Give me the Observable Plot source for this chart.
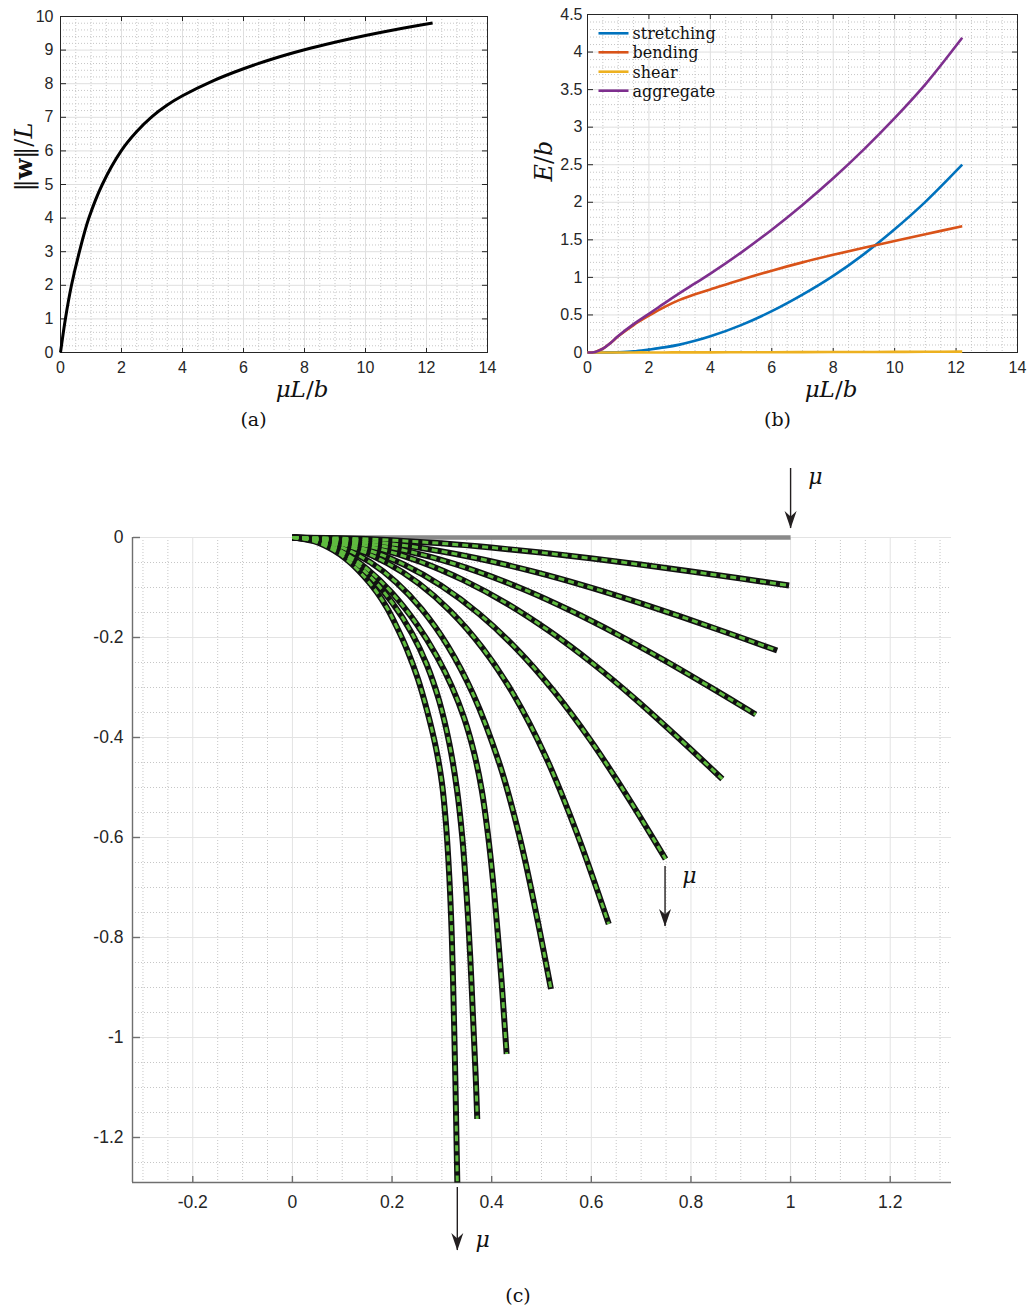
<!DOCTYPE html>
<html>
<head>
<meta charset="utf-8">
<script src="https://cdn.jsdelivr.net/npm/d3@7"></script>
<script src="https://cdn.jsdelivr.net/npm/@observablehq/plot@0.6"></script>
<style>
  html, body { margin: 0; padding: 0; background: #fff; }
  #fig { position: relative; width: 1028px; height: 1313px; overflow: hidden; }
  #fig > svg { position: absolute; }
</style>
</head>
<body>
<div id="fig"></div>
<script>
// ---------- (a) tip displacement norm vs. load ----------
const loadA = [0, 0.16, 0.36, 0.62, 0.93, 1.37, 1.99, 2.5, 3, 3.5, 4, 5, 6, 7, 8, 9, 10, 11, 12.2];
const wNorm = [0, 1, 2, 3, 4, 5, 6, 6.575, 7.02, 7.365, 7.64, 8.085, 8.445, 8.75, 9.01, 9.235, 9.435, 9.615, 9.805];

// ---------- (b) energy components vs. load ----------
const loadB      = [0, 0.25, 0.5, 0.75, 1, 1.5, 2, 2.5, 3, 3.5, 4, 5, 6, 7, 8, 9, 10, 11, 12.2];
const stretching = [0, 0, 0.001, 0.002, 0.004, 0.015, 0.04, 0.068, 0.105, 0.155, 0.215, 0.365, 0.55, 0.77, 1.02, 1.31, 1.64, 2.005, 2.5];
const bending    = [0, 0.008, 0.05, 0.125, 0.215, 0.365, 0.49, 0.605, 0.7, 0.775, 0.84, 0.97, 1.09, 1.2, 1.3, 1.395, 1.485, 1.575, 1.68];
const shear      = [0, 0, 0, 0, 0, 0.001, 0.001, 0.001, 0.002, 0.002, 0.002, 0.003, 0.004, 0.005, 0.006, 0.007, 0.008, 0.01, 0.012];
const aggregate  = [0, 0.008, 0.052, 0.128, 0.22, 0.378, 0.515, 0.655, 0.79, 0.92, 1.05, 1.33, 1.635, 1.965, 2.32, 2.705, 3.12, 3.57, 4.19];
const seriesNames  = ["stretching", "bending", "shear", "aggregate"];
const seriesColors = ["#0072BD", "#D95319", "#EDB120", "#7E2F8E"];

// ---------- (c) deformed beam shapes (x, y) for increasing load ----------
const undeformed = [[0, 0], [1, 0]];
const beam1 = [[0,0],[0.0997,-0.0014],[0.1994,-0.0054],[0.2991,-0.0117],[0.3988,-0.02],[0.4985,-0.03],[0.5982,-0.0415],[0.6979,-0.0541],[0.7976,-0.0676],[0.8973,-0.0816],[0.997,-0.096]];
const beam2 = [[0,0],[0.0973,-0.0031],[0.1946,-0.0121],[0.2919,-0.0264],[0.3892,-0.0455],[0.4865,-0.0688],[0.5838,-0.0957],[0.6811,-0.1256],[0.7784,-0.1578],[0.8757,-0.1915],[0.973,-0.226]];
const beam3 = [[0,0],[0.093,-0.0046],[0.186,-0.0179],[0.279,-0.0393],[0.372,-0.0683],[0.465,-0.104],[0.558,-0.1461],[0.651,-0.1931],[0.744,-0.2441],[0.837,-0.2982],[0.93,-0.354]];
const beam4 = [[0,0],[0.0863,-0.0057],[0.1726,-0.0223],[0.2589,-0.0492],[0.3452,-0.0862],[0.4315,-0.1327],[0.5178,-0.1886],[0.6041,-0.253],[0.6904,-0.3249],[0.7767,-0.4025],[0.863,-0.483]];
const beam5 = [[0,0],[0.0749,-0.0062],[0.1498,-0.0244],[0.2247,-0.0546],[0.2996,-0.097],[0.3745,-0.1525],[0.4494,-0.2221],[0.5243,-0.3068],[0.5992,-0.4068],[0.6741,-0.5206],[0.749,-0.643]];
const beam6 = [[0,0],[0.0635,-0.0057],[0.127,-0.0227],[0.1905,-0.0513],[0.254,-0.0922],[0.3175,-0.1476],[0.381,-0.2202],[0.4445,-0.3148],[0.508,-0.4374],[0.5715,-0.5924],[0.635,-0.773]];
const beam7 = [[0,0],[0.0519,-0.0054],[0.1038,-0.0218],[0.1557,-0.0492],[0.2076,-0.0889],[0.2595,-0.1433],[0.3114,-0.2162],[0.3633,-0.3146],[0.4152,-0.4511],[0.445,-0.555],[0.4671,-0.6462],[0.495,-0.78],[0.519,-0.903]];
const beam8 = [[0,0],[0.05,-0.007],[0.1,-0.028],[0.15,-0.063],[0.2,-0.111],[0.25,-0.174],[0.29,-0.238],[0.32,-0.298],[0.345,-0.362],[0.365,-0.432],[0.38,-0.505],[0.392,-0.59],[0.403,-0.69],[0.412,-0.79],[0.42,-0.89],[0.426,-0.975],[0.43,-1.033]];
const beam9 = [[0,0],[0.05,-0.008],[0.1,-0.032],[0.15,-0.072],[0.2,-0.13],[0.24,-0.192],[0.27,-0.255],[0.295,-0.328],[0.315,-0.412],[0.33,-0.502],[0.341,-0.6],[0.35,-0.72],[0.357,-0.84],[0.363,-0.97],[0.368,-1.08],[0.371,-1.163]];
const beam10 = [[0,0],[0.043,-0.0075],[0.083,-0.026],[0.11,-0.045],[0.143,-0.077],[0.17,-0.11],[0.19,-0.141],[0.21,-0.18],[0.23,-0.224],[0.252,-0.283],[0.27,-0.345],[0.288,-0.42],[0.3,-0.49],[0.308,-0.57],[0.315,-0.68],[0.32,-0.8],[0.324,-0.95],[0.327,-1.08],[0.3293,-1.2],[0.331,-1.29]];
const beams = [beam1, beam2, beam3, beam4, beam5, beam6, beam7, beam8, beam9, beam10];

// load arrows and their μ labels, in (c) data units
const loadArrows = [
  {x: 1, y1: 0.138, y2: 0.018},
  {x: 0.748, y1: -0.658, y2: -0.778},
  {x: 0.331, y1: -1.3, y2: -1.426}
];
const muLabels = [{x: 1.05, y: 0.122}, {x: 0.797, y: -0.676}, {x: 0.382, y: -1.404}];

// tick values
const ticksAX = [0, 2, 4, 6, 8, 10, 12, 14];
const ticksAY = [0, 1, 2, 3, 4, 5, 6, 7, 8, 9, 10];
const ticksBX = ticksAX;
const ticksBY = [0, 0.5, 1, 1.5, 2, 2.5, 3, 3.5, 4, 4.5];
const ticksCX = [-0.2, 0, 0.2, 0.4, 0.6, 0.8, 1, 1.2];
const ticksCY = [-1.2, -1, -0.8, -0.6, -0.4, -0.2, 0];
const minorAX = d3.range(1, 28).filter(i => i % 4 !== 0).map(i => i / 2);
const minorAY = d3.range(1, 50).filter(i => i % 5 !== 0).map(i => i / 5);
const minorBY = d3.range(1, 45).filter(i => i % 5 !== 0).map(i => i / 10);
const minorCX = d3.range(-6, 27).filter(i => i % 4 !== 0).map(i => i / 20);
const minorCY = d3.range(-25, 0).filter(i => i % 4 !== 0).map(i => i / 20);
const xDomainC = [-0.321, 1.323];
const yDomainC = [-1.29, 0];

const fmt = d => String(+(+d).toFixed(2));
const sans = "'Liberation Sans', Arial, Helvetica, sans-serif";
const serif = "'DejaVu Serif', 'Liberation Serif', serif";
const ink = "#262626";
const majorGrid = {stroke: "#dfdfdf", strokeOpacity: 1, strokeWidth: 1};
const minorGrid = {stroke: "#c6c6c6", strokeOpacity: 1, strokeWidth: 1, strokeDasharray: "1,2"};

// MATLAB-style boxed axes: ticks drawn inward on all four sides
function boxedAxes(tx, ty, padX, padY) {
  const tick = {tickSize: 5, fill: "none", stroke: ink, strokeWidth: 1};
  return [
    Plot.frame({stroke: ink, strokeWidth: 1}),
    Plot.axisX(tx, {anchor: "top", frameAnchor: "bottom", ...tick}),
    Plot.axisX(tx, {anchor: "bottom", frameAnchor: "top", ...tick}),
    Plot.axisY(ty, {anchor: "right", frameAnchor: "left", ...tick}),
    Plot.axisY(ty, {anchor: "left", frameAnchor: "right", ...tick}),
    Plot.axisX(tx, {anchor: "bottom", tickSize: 0, tickPadding: padX, tickFormat: fmt, fill: ink, label: null}),
    Plot.axisY(ty, {anchor: "left", tickSize: 0, tickPadding: padY, tickFormat: fmt, fill: ink, label: null})
  ];
}

const fig = document.getElementById("fig");

// ---------- panel (a) ----------
const dataA = loadA.map((x, i) => ({x, y: wNorm[i]}));
const plotA = Plot.plot({
  width: 510, height: 400,
  marginLeft: 60, marginRight: 23, marginTop: 16, marginBottom: 48,
  x: {domain: [0, 14], label: null},
  y: {domain: [0, 10], label: null},
  style: {fontFamily: sans, fontSize: "16px", color: ink, background: "transparent", overflow: "visible"},
  marks: [
    Plot.gridX(minorAX, minorGrid),
    Plot.gridY(minorAY, minorGrid),
    Plot.gridX(ticksAX, majorGrid),
    Plot.gridY(ticksAY, majorGrid),
    ...boxedAxes(ticksAX, ticksAY, 9, 7),
    Plot.line(dataA, {x: "x", y: "y", stroke: "#000", strokeWidth: 3, curve: "catmull-rom", strokeLinecap: "butt"})
  ]
});
plotA.style.left = "0px"; plotA.style.top = "0px";
fig.appendChild(plotA);

// ---------- panel (b) ----------
const seriesB = [stretching, bending, shear, aggregate];
const dataB = seriesB.flatMap((vals, k) => loadB.map((x, i) => ({x, y: vals[i], name: seriesNames[k]})));
const plotB = Plot.plot({
  width: 508, height: 400,
  marginLeft: 67, marginRight: 11, marginTop: 14, marginBottom: 48,
  x: {domain: [0, 14], label: null},
  y: {domain: [0, 4.5], label: null},
  color: {domain: seriesNames, range: seriesColors},
  style: {fontFamily: sans, fontSize: "16px", color: ink, background: "transparent", overflow: "visible"},
  marks: [
    Plot.gridX(minorAX, minorGrid),
    Plot.gridY(minorBY, minorGrid),
    Plot.gridX(ticksBX, majorGrid),
    Plot.gridY(ticksBY, majorGrid),
    ...boxedAxes(ticksBX, ticksBY, 9, 5),
    Plot.line(dataB, {x: "x", y: "y", z: "name", stroke: "name", strokeWidth: 2.6, curve: "catmull-rom", strokeLinecap: "butt"})
  ]
});
plotB.style.left = "520px"; plotB.style.top = "0px";
fig.appendChild(plotB);

// ---------- panel (c) ----------
const beamData = beams.flatMap((pts, k) => pts.map(([x, y]) => ({x, y, load: k + 1})));
const stealthHead = {
  draw(context, size) {
    const r = Math.sqrt(size / Math.PI);
    context.moveTo(0, 0);
    context.lineTo(-0.6 * r, -1.75 * r);
    context.lineTo(0, -1.2 * r);
    context.lineTo(0.6 * r, -1.75 * r);
    context.closePath();
  }
};
const axisGray = "#6f6f6f";
const plotC = Plot.plot({
  width: 1028, height: 830,
  marginLeft: 132, marginRight: 77, marginTop: 97, marginBottom: 88,
  x: {domain: xDomainC, label: null},
  y: {domain: yDomainC, label: null},
  style: {fontFamily: sans, fontSize: "17.5px", color: ink, background: "transparent", overflow: "visible"},
  marks: [
    Plot.gridX(minorCX, minorGrid),
    Plot.gridY(minorCY, minorGrid),
    Plot.gridX(ticksCX, {...majorGrid, stroke: "#e3e3e3"}),
    Plot.gridY(ticksCY, {...majorGrid, stroke: "#e3e3e3"}),
    Plot.ruleX([xDomainC[0]], {stroke: axisGray, strokeWidth: 1.4}),
    Plot.ruleY([yDomainC[0]], {stroke: axisGray, strokeWidth: 1.4}),
    Plot.axisX(ticksCX, {anchor: "top", frameAnchor: "bottom", tickSize: 7, fill: "none", stroke: axisGray, strokeWidth: 1.4}),
    Plot.axisY(ticksCY, {anchor: "right", frameAnchor: "left", tickSize: 7, fill: "none", stroke: axisGray, strokeWidth: 1.4}),
    Plot.axisX(ticksCX, {anchor: "bottom", tickSize: 0, tickPadding: 13, tickFormat: fmt, fill: ink, label: null}),
    Plot.axisY(ticksCY, {anchor: "left", tickSize: 0, tickPadding: 9, tickFormat: fmt, fill: ink, label: null}),
    Plot.line(undeformed, {x: d => d[0], y: d => d[1], stroke: "#8a8a8a", strokeWidth: 4.5, strokeLinecap: "butt"}),
    Plot.line(beamData, {x: "x", y: "y", z: "load", stroke: "#111", strokeWidth: 6, curve: "catmull-rom", strokeLinecap: "butt"}),
    Plot.line(beamData, {x: "x", y: "y", z: "load", stroke: "#5fbb3f", strokeWidth: 3, strokeDasharray: "6,4", curve: "catmull-rom", strokeLinecap: "butt"}),
    Plot.ruleX(loadArrows, {x: "x", y1: "y1", y2: "y2", stroke: "#231f20", strokeWidth: 1.4}),
    Plot.dot(loadArrows, {x: "x", y: "y2", r: 10, symbol: stealthHead, fill: "#231f20", stroke: "none"}),
    Plot.text(muLabels, {x: "x", y: "y", text: () => "μ", fontFamily: serif, fontStyle: "italic", fontSize: 22, fill: "#111"})
  ]
});
plotC.style.left = "0px"; plotC.style.top = "440px";
fig.appendChild(plotC);

// ---------- axis titles, panel captions and legend ----------
const overlay = d3.select(fig).append("svg")
  .attr("width", 1028).attr("height", 1313)
  .style("left", "0px").style("top", "0px").style("pointer-events", "none");

function tex(parts, x, y, {size = 24, anchor = "middle", rotate = 0} = {}) {
  const t = overlay.append("text")
    .attr("transform", `translate(${x},${y}) rotate(${rotate})`)
    .attr("text-anchor", anchor)
    .attr("font-family", serif)
    .attr("font-size", size)
    .attr("fill", "#111");
  for (const [s, style] of parts) {
    const span = t.append("tspan").text(s);
    if (style === "i") span.attr("font-style", "italic");
    if (style === "b") span.attr("font-weight", "bold");
  }
}

tex([["μL", "i"], ["/"], ["b", "i"]], 302, 397, {size: 23});
tex([["‖"], ["w", "b"], ["‖"], ["/"], ["L", "i"]], 32, 157, {rotate: -90});
tex([["(a)"]], 253.5, 426, {size: 19});

tex([["μL", "i"], ["/"], ["b", "i"]], 831, 397, {size: 23});
tex([["E", "i"], ["/"], ["b", "i"]], 552, 161, {rotate: -90});
tex([["(b)"]], 777.5, 426, {size: 19});

tex([["(c)"]], 518, 1302, {size: 19});

// legend for (b)
const legendRows = [33.3, 52.3, 71.7, 90.7];
seriesNames.forEach((name, k) => {
  overlay.append("line")
    .attr("x1", 598.5).attr("x2", 628.5)
    .attr("y1", legendRows[k]).attr("y2", legendRows[k])
    .attr("stroke", seriesColors[k]).attr("stroke-width", 2.6);
  tex([[name]], 632.5, legendRows[k] + 6, {size: 16, anchor: "start"});
});
</script>
</body>
</html>
